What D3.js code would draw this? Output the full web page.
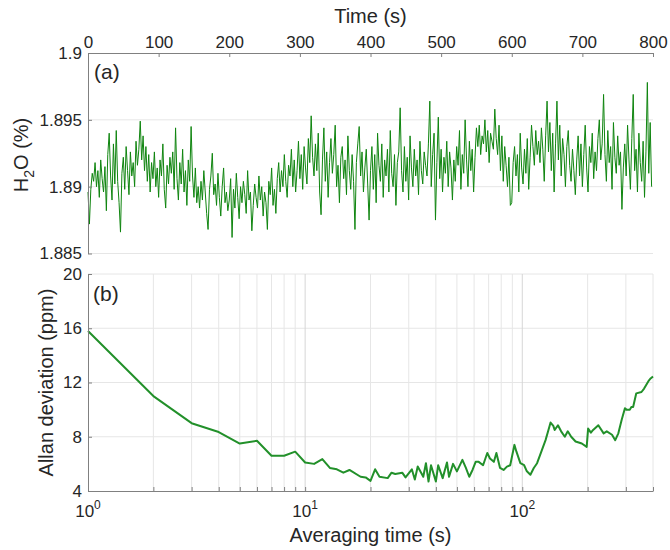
<!DOCTYPE html>
<html>
<head>
<meta charset="utf-8">
<script src="https://cdn.jsdelivr.net/npm/d3@7"></script>
<style>
  body { margin: 0; background: #fff; }
  text { font-family: Arial, "Liberation Sans", sans-serif; fill: #262626; }
</style>
</head>
<body>
<div id="chart"></div>
<script>
var width = 670;
var height = 550;

// (a) H2O time series, one reading every 2 s
var timeStep = 2;
var h2o = [
  1.8896,1.8872,1.8898,1.8910,1.8904,1.8918,1.8900,1.8912,1.8892,1.8920,1.8906,1.8896,1.8915,1.8882,1.8924,1.8940,1.8908,1.8890,1.8932,1.8902,
  1.8942,1.8904,1.8888,1.8866,1.8910,1.8922,1.8898,1.8930,1.8912,1.8894,1.8926,1.8908,1.8918,1.8900,1.8934,1.8916,1.8928,1.8949,1.8920,1.8938,
  1.8912,1.8930,1.8904,1.8924,1.8896,1.8918,1.8906,1.8926,1.8900,1.8914,1.8892,1.8920,1.8908,1.8932,1.8898,1.8884,1.8916,1.8902,1.8922,1.8910,
  1.8926,1.8898,1.8944,1.8906,1.8890,1.8918,1.8902,1.8928,1.8896,1.8912,1.8886,1.8920,1.8904,1.8945,1.8908,1.8892,1.8914,1.8888,1.8900,1.8884,
  1.8904,1.8890,1.8912,1.8896,1.8880,1.8868,1.8898,1.8908,1.8925,1.8894,1.8902,1.8886,1.8910,1.8892,1.8878,1.8900,1.8914,1.8888,1.8896,1.8882,
  1.8890,1.8906,1.8862,1.8898,1.8884,1.8910,1.8892,1.8876,1.8900,1.8888,1.8904,1.8894,1.8880,1.8912,1.8890,1.8896,1.8867,1.8886,1.8902,1.8892,
  1.8884,1.8908,1.8890,1.8900,1.8878,1.8896,1.8888,1.8868,1.8904,1.8894,1.8914,1.8886,1.8898,1.8880,1.8906,1.8918,1.8896,1.8912,1.8900,1.8924,
  1.8904,1.8892,1.8916,1.8908,1.8928,1.8900,1.8920,1.8896,1.8912,1.8934,1.8906,1.8924,1.8898,1.8930,1.8914,1.8902,1.8936,1.8918,1.8953,1.8922,
  1.8908,1.8932,1.8912,1.8940,1.8896,1.8879,1.8920,1.8944,1.8904,1.8926,1.8892,1.8918,1.8936,1.8910,1.8924,1.8946,1.8900,1.8916,1.8888,1.8922,
  1.8930,1.8906,1.8920,1.8894,1.8938,1.8912,1.8898,1.8924,1.8904,1.8868,1.8918,1.8932,1.8945,1.8908,1.8926,1.8896,1.8914,1.8928,1.8902,1.8875,
  1.8912,1.8930,1.8898,1.8924,1.8888,1.8940,1.8916,1.8904,1.8932,1.8892,1.8920,1.8908,1.8928,1.8896,1.8942,1.8910,1.8900,1.8924,1.8886,1.8918,
  1.8926,1.8959,1.8912,1.8896,1.8930,1.8904,1.8922,1.8890,1.8938,1.8914,1.8900,1.8928,1.8908,1.8920,1.8894,1.8934,1.8912,1.8902,1.8926,1.8916,
  1.8908,1.8932,1.8964,1.8900,1.8924,1.8940,1.8875,1.8918,1.8952,1.8906,1.8928,1.8896,1.8922,1.8910,1.8934,1.8900,1.8926,1.8914,1.8890,1.8920,
  1.8904,1.8930,1.8916,1.8942,1.8898,1.8924,1.8910,1.8950,1.8920,1.8900,1.8934,1.8912,1.8928,1.8896,1.8922,1.8944,1.8930,1.8946,1.8924,1.8938,
  1.8932,1.8950,1.8926,1.8942,1.8918,1.8940,1.8934,1.8928,1.8958,1.8936,1.8924,1.8946,1.8912,1.8938,1.8904,1.8930,1.8916,1.8900,1.8922,1.8886,
  1.8888,1.8918,1.8930,1.8908,1.8924,1.8896,1.8940,1.8914,1.8902,1.8928,1.8910,1.8936,1.8898,1.8922,1.8946,1.8930,1.8916,1.8942,1.8924,1.8934,
  1.8918,1.8944,1.8928,1.8904,1.8938,1.8964,1.8926,1.8948,1.8912,1.8940,1.8896,1.8932,1.8964,1.8920,1.8946,1.8908,1.8936,1.8924,1.8900,1.8930,
  1.8942,1.8916,1.8904,1.8928,1.8912,1.8894,1.8920,1.8938,1.8908,1.8932,1.8900,1.8924,1.8946,1.8914,1.8896,1.8930,1.8918,1.8940,1.8906,1.8926,
  1.8912,1.8936,1.8950,1.8920,1.8932,1.8969,1.8924,1.8904,1.8942,1.8918,1.8930,1.8898,1.8948,1.8922,1.8910,1.8938,1.8916,1.8926,1.8883,1.8914,
  1.8932,1.8908,1.8946,1.8920,1.8898,1.8936,1.8969,1.8912,1.8928,1.8896,1.8940,1.8918,1.8904,1.8934,1.8892,1.8926,1.8978,1.8910,1.8948,1.8900
];
var timeTicks = [0, 100, 200, 300, 400, 500, 600, 700, 800];
var h2oTicks = [1.885, 1.89, 1.895, 1.9];

// (b) Allan deviation vs averaging time
var allanTau = [1,2,3,4,5,6,7,8,9,10,11,12,13,14,15,16,18,19,20,21,22,24,25,26,28,29,31,32,33,35,36,37,38,40,41,43,45,46,48,50,
  53,55,57,59,61,63,66,69,71,74,76,79,82,85,88,92,94,98,102,105,109,113,117,123,128,132,135,139,141,146,151,157,162,168,176,188,198,
  201,207,212,224,237,245,259,268,277,287,297,302,313,318,324,335,354,364,381,390,400];
var allanDev = [15.8,11.0,9.0,8.35,7.5,7.7,6.6,6.6,6.9,6.1,6.0,6.35,5.7,5.6,5.35,5.55,5.05,5.0,4.75,5.6,5.05,4.95,5.35,5.25,5.35,5.0,5.6,4.85,5.8,5.05,6.05,4.7,5.9,4.7,5.9,4.95,6.1,5.05,6.0,5.45,
  6.3,5.7,5.05,5.55,6.15,6.15,5.9,6.8,6.4,6.15,6.8,5.7,5.55,5.8,5.9,7.4,6.9,6.05,5.9,5.45,5.2,5.7,6.05,7.0,7.75,8.5,9.05,8.8,8.5,8.85,8.4,8.0,8.4,8.0,7.65,7.5,7.25,
  8.6,8.3,8.5,8.85,8.25,8.4,8.15,7.75,8.25,9.25,10.1,10.0,10.0,10.2,10.2,11.2,11.3,11.55,12.1,12.3,12.45];
var allanTicks = [4, 8, 12, 16, 20];
var tauTicks = [2,3,4,5,6,7,8,9,10,20,30,40,50,60,70,80,90,100,200,300,400];
var tauLabels = [1, 10, 100];

var axisColor = "#808080";
var gridColor = "#e6e6e6";

var svg = d3.select("#chart")
  .append("svg")
  .attr("width", width)
  .attr("height", height);

// ---------- panel (a) ----------
var xTime = d3.scaleLinear().domain([0, 800]).range([88, 653]);
var yH2o = d3.scaleLinear().domain([1.885, 1.9]).range([253.5, 53]);

svg.append("g")
  .selectAll("line")
  .data(h2oTicks.slice(0, 3))
  .enter()
  .append("line")
  .attr("x1", xTime(0)).attr("x2", xTime(800))
  .attr("y1", d => yH2o(d)).attr("y2", d => yH2o(d))
  .attr("stroke", gridColor);

var lineA = d3.line()
  .x((d, i) => xTime(i * timeStep))
  .y(d => yH2o(d));

svg.append("path")
  .datum(h2o)
  .attr("d", lineA)
  .attr("fill", "none")
  .attr("stroke", "#0f850f")
  .attr("stroke-width", 1);

var topAxis = svg.append("g")
  .attr("transform", "translate(0," + yH2o(1.9) + ")")
  .call(d3.axisTop(xTime).tickValues(timeTicks).tickSize(-4).tickSizeOuter(0).tickPadding(5));

var leftAxisA = svg.append("g")
  .attr("transform", "translate(" + xTime(0) + ",0)")
  .call(d3.axisLeft(yH2o).tickValues(h2oTicks).tickFormat(d => String(d)).tickSize(-4).tickSizeOuter(0).tickPadding(6));

svg.append("text")
  .attr("x", xTime(400)).attr("y", 23)
  .attr("text-anchor", "middle")
  .attr("font-size", 20)
  .text("Time (s)");

var h2oLabel = svg.append("text")
  .attr("transform", "translate(28,155) rotate(-90)")
  .attr("text-anchor", "middle")
  .attr("font-size", 20);
h2oLabel.append("tspan").text("H");
h2oLabel.append("tspan").attr("font-size", 14).attr("dy", 6).text("2");
h2oLabel.append("tspan").attr("dy", -6).text("O (%)");

svg.append("text")
  .attr("x", 94).attr("y", 79)
  .attr("font-size", 21)
  .text("(a)");

// ---------- panel (b) ----------
var xTau = d3.scaleLog().domain([1, 400]).range([88, 653]);
var yDev = d3.scaleLinear().domain([4, 20]).range([491, 274]);

svg.append("g")
  .selectAll("line")
  .data(allanTicks.slice(1))
  .enter()
  .append("line")
  .attr("x1", xTau(1)).attr("x2", xTau(400))
  .attr("y1", d => yDev(d)).attr("y2", d => yDev(d))
  .attr("stroke", gridColor);

svg.append("g")
  .selectAll("line")
  .data(tauTicks)
  .enter()
  .append("line")
  .attr("x1", d => xTau(d)).attr("x2", d => xTau(d))
  .attr("y1", yDev(4)).attr("y2", yDev(20))
  .attr("stroke", d => (d === 10 || d === 100) ? "#d6d6d6" : gridColor);

var lineB = d3.line()
  .x((d, i) => xTau(allanTau[i]))
  .y(d => yDev(d));

svg.append("path")
  .datum(allanDev)
  .attr("d", lineB)
  .attr("fill", "none")
  .attr("stroke", "#22902a")
  .attr("stroke-width", 2)
  .attr("stroke-linejoin", "round");

var bottomAxis = svg.append("g")
  .attr("transform", "translate(0," + yDev(4) + ")")
  .call(d3.axisBottom(xTau).tickValues(tauTicks).tickFormat("").tickSize(-4).tickSizeOuter(0));

var leftAxisB = svg.append("g")
  .attr("transform", "translate(" + xTau(1) + ",0)")
  .call(d3.axisLeft(yDev).tickValues(allanTicks).tickSize(-4).tickSizeOuter(0).tickPadding(6));

[topAxis, leftAxisA, bottomAxis, leftAxisB].forEach(function (g) {
  g.selectAll("path, line").attr("stroke", axisColor);
  g.selectAll("text").attr("font-size", 17).attr("fill", "#262626")
    .style("font-family", "Arial, 'Liberation Sans', sans-serif");
});

var powLabels = svg.append("g")
  .selectAll("text")
  .data(tauLabels)
  .enter()
  .append("text")
  .attr("x", d => xTau(d))
  .attr("y", 517)
  .attr("text-anchor", "middle")
  .attr("font-size", 17);
powLabels.append("tspan").text("10");
powLabels.append("tspan").attr("font-size", 12).attr("dy", -8).text(d => Math.round(Math.log10(d)));

svg.append("text")
  .attr("x", xTau(Math.sqrt(400))).attr("y", 542)
  .attr("text-anchor", "middle")
  .attr("font-size", 20)
  .text("Averaging time (s)");

svg.append("text")
  .attr("transform", "translate(53," + yDev(12) + ") rotate(-90)")
  .attr("text-anchor", "middle")
  .attr("font-size", 20)
  .text("Allan deviation (ppm)");

svg.append("text")
  .attr("x", 93).attr("y", 301)
  .attr("font-size", 21)
  .text("(b)");
</script>
</body>
</html>
